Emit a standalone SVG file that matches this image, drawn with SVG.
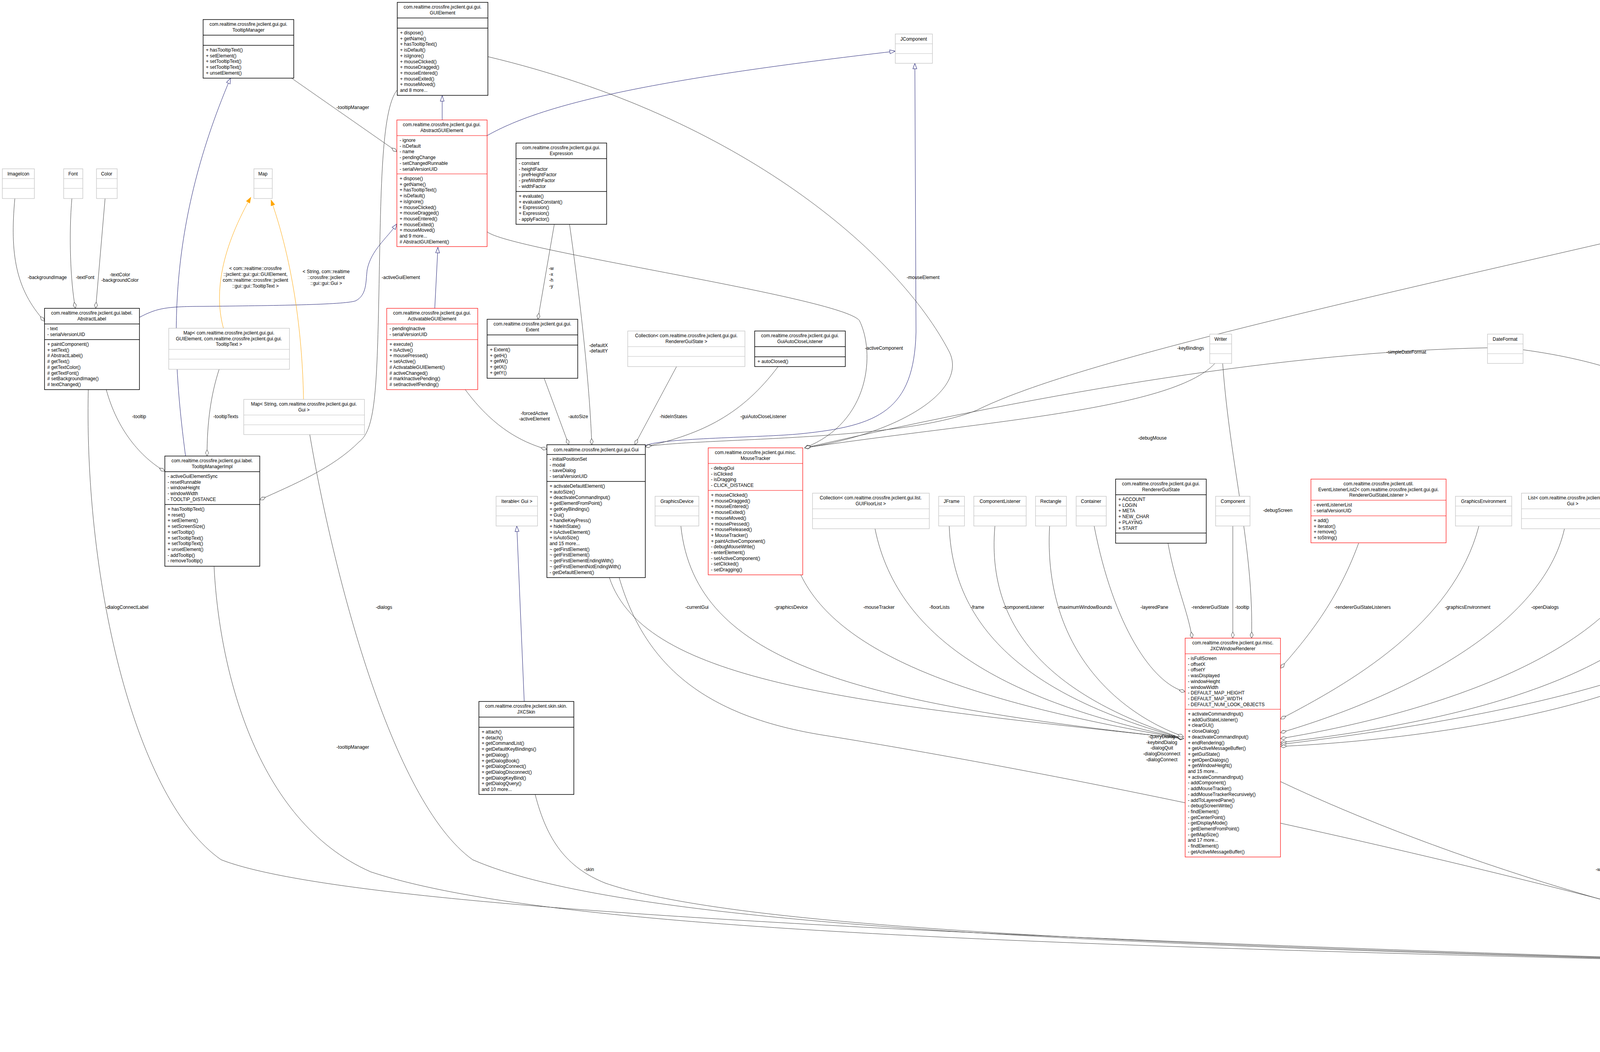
<svg xmlns="http://www.w3.org/2000/svg" width="6203" height="2692" viewBox="0 0 6203 2692">
<style>
text{font-family:"Liberation Sans",Arial,sans-serif;font-size:12px;fill:#000}
.c{text-anchor:middle}
.b rect{fill:#fff;stroke:#000;stroke-width:1.5}
.b line{stroke:#000;stroke-width:1.5}
.r rect{fill:#fff;stroke:#f00;stroke-width:1.2}
.r line{stroke:#f00;stroke-width:1.2}
.g rect{fill:#fff;stroke:#bfbfbf;stroke-width:1.2}
.g line{stroke:#bfbfbf;stroke-width:1.2}
.m rect{fill:#bfbfbf;stroke:#000;stroke-width:1.5}
.m line{stroke:#000;stroke-width:1.5}
.e{fill:none;stroke:#404040;stroke-width:1}
.i{fill:none;stroke:#191970;stroke-width:1}
.o{fill:none;stroke:orange;stroke-width:1}
</style>
<defs>
<marker id="dia" markerUnits="userSpaceOnUse" markerWidth="18" markerHeight="10" refX="16" refY="5" orient="auto" viewBox="0 0 18 10"><path d="M0,5 L8,1 L16,5 L8,9 Z" fill="#fff" stroke="#404040"/></marker>
<marker id="tri" markerUnits="userSpaceOnUse" markerWidth="16" markerHeight="12" refX="15" refY="6" orient="auto" viewBox="0 0 16 12"><path d="M1,1 L15,6 L1,11 Z" fill="#fff" stroke="#191970"/></marker>
<marker id="arr" markerUnits="userSpaceOnUse" markerWidth="16" markerHeight="12" refX="15" refY="6" orient="auto" viewBox="0 0 16 12"><path d="M1,1 L15,6 L1,11 Z" fill="orange" stroke="orange"/></marker>
</defs>

<g id="connectors">
<path class="i" marker-end="url(#tri)" d="M475,1167 C440,900 420,600 590,200"/>
<path class="i" marker-end="url(#tri)" d="M1132,307 L1132,245"/>
<path class="i" marker-end="url(#tri)" d="M1113,789 L1121,633"/>
<path class="i" marker-end="url(#tri)" d="M357,812 C400,790 420,784 520,784 C700,782 880,780 910,770 C940,755 936,720 940,690 C950,640 990,610 1016,573"/>
<path class="i" marker-end="url(#tri)" d="M1247,347 C1400,260 1700,200 2292,131"/>
<path class="i" marker-end="url(#tri)" d="M1652,1140 C1700,1120 1950,1120 2050,1110 C2250,1090 2340,1050 2345,850 L2342,162"/>
<path class="i" marker-end="url(#tri)" d="M1342,1795 L1323,1346"/>
<path class="i" marker-end="url(#tri)" d="M5766,1219 L5872,930"/>
<path class="i" marker-end="url(#tri)" d="M5843,1502 C5880,1450 5900,1300 5890,930"/>
<path class="i" marker-end="url(#tri)" d="M6015,1502 L5897,930"/>
<path class="o" marker-end="url(#arr)" d="M572,840 C550,760 560,650 642,505"/>
<path class="o" marker-end="url(#arr)" d="M777,1022 C775,900 760,700 694,512"/>

<path class="e" marker-end="url(#dia)" d="M38,508 C25,650 40,740 114,822"/>
<path class="e" marker-end="url(#dia)" d="M184,508 C176,600 180,720 193,789"/>
<path class="e" marker-end="url(#dia)" d="M269,508 L245,789"/>
<path class="e" marker-end="url(#dia)" d="M745,199 L1016,388"/>
<path class="e" marker-end="url(#dia)" d="M1017,230 C975,280 975,500 970,750 C965,1000 960,1100 920,1130 C850,1200 750,1240 665,1279"/>
<path class="e" marker-end="url(#dia)" d="M272,997 C300,1100 360,1170 422,1206"/>
<path class="e" marker-end="url(#dia)" d="M561,945 C540,1010 530,1080 530,1167"/>
<path class="e" marker-end="url(#dia)" d="M226,997 C215,1500 350,2050 566,2200 C900,2330 2500,2400 4686,2467"/>
<path class="e" marker-end="url(#dia)" d="M548,1449 C560,1700 650,2100 949,2231 C1400,2380 2600,2420 4686,2467"/>
<path class="e" marker-end="url(#dia)" d="M793,1112 C850,1450 1000,2050 1210,2200 C1600,2370 2800,2420 4686,2467"/>
<path class="e" marker-end="url(#dia)" d="M1370,2033 C1400,2150 1450,2220 1550,2260 C1900,2380 3000,2420 4686,2467"/>
<path class="e" marker-end="url(#dia)" d="M1585,1478 C1650,1700 1800,1830 2100,1880 C2600,1960 3600,2150 4686,2460"/>
<path class="e" marker-end="url(#dia)" d="M1191,997 C1260,1090 1330,1130 1400,1150"/>
<path class="e" marker-end="url(#dia)" d="M1393,968 L1456,1138"/>
<path class="e" marker-end="url(#dia)" d="M1419,574 L1377,817"/>
<path class="e" marker-end="url(#dia)" d="M1458,574 C1490,800 1510,1000 1515,1138"/>
<path class="e" marker-end="url(#dia)" d="M1732,938 L1625,1138"/>
<path class="e" marker-end="url(#dia)" d="M1992,938 C1900,1060 1800,1110 1652,1143"/>
<path class="e" marker-end="url(#dia)" d="M1249,145 C1900,300 2300,650 2430,900 C2480,1000 2300,1110 2060,1146"/>
<path class="e" marker-end="url(#dia)" d="M1247,593 C1300,640 2150,760 2200,820 C2240,900 2230,1080 2060,1146"/>
<path class="e" marker-end="url(#dia)" d="M4712,480 C3800,700 2800,900 2500,1050 C2300,1130 1800,1120 1652,1143"/>
<path class="e" marker-end="url(#dia)" d="M3110,930 C3000,1050 2500,1080 2060,1146"/>
<path class="e" marker-end="url(#dia)" d="M3808,890 C3300,900 2700,1000 2060,1146"/>
<path class="e" marker-end="url(#dia)" d="M3130,930 C3150,1200 3210,1400 3204,1633"/>
<path class="e" marker-end="url(#dia)" d="M1560,1478 C1650,1750 2200,1800 3030,1890"/>
<path class="e" marker-end="url(#dia)" d="M1743,1346 C1780,1700 2200,1800 3030,1890"/>
<path class="e" marker-end="url(#dia)" d="M2050,1471 C2150,1680 2500,1800 3030,1890"/>
<path class="e" marker-end="url(#dia)" d="M2240,1353 C2300,1650 2600,1800 3030,1890"/>
<path class="e" marker-end="url(#dia)" d="M2430,1346 C2440,1650 2700,1800 3030,1890"/>
<path class="e" marker-end="url(#dia)" d="M2547,1346 C2520,1650 2750,1800 3030,1890"/>
<path class="e" marker-end="url(#dia)" d="M2687,1346 C2670,1650 2850,1820 3030,1885"/>
<path class="e" marker-end="url(#dia)" d="M2801,1346 C2850,1600 2950,1750 3034,1770"/>
<path class="e" marker-end="url(#dia)" d="M2990,1390 C3010,1500 3040,1560 3052,1633"/>
<path class="e" marker-end="url(#dia)" d="M3156,1346 L3156,1633"/>
<path class="e" marker-end="url(#dia)" d="M3478,1390 C3420,1550 3330,1650 3278,1710"/>
<path class="e" marker-end="url(#dia)" d="M3786,1346 C3720,1600 3450,1750 3278,1840"/>
<path class="e" marker-end="url(#dia)" d="M4005,1353 C3950,1600 3600,1780 3278,1875"/>
<path class="e" marker-end="url(#dia)" d="M4237,1346 C4200,1650 3700,1820 3278,1890"/>
<path class="e" marker-end="url(#dia)" d="M4378,1346 C4330,1700 3800,1840 3278,1900"/>
<path class="e" marker-end="url(#dia)" d="M4650,1427 C4500,1700 3900,1830 3278,1905"/>
<path class="e" marker-end="url(#dia)" d="M3899,895 C4300,950 4450,1100 4453,1300 C4455,1500 4400,1650 4190,1750 C3900,1860 3500,1900 3278,1910"/>
<path class="e" marker-end="url(#dia)" d="M3278,2000 C3700,2200 4300,2380 4686,2430"/>
<path class="e" marker-end="url(#dia)" d="M4762,1427 C4765,1800 4775,2100 4783,2258"/>
<path class="e" marker-end="url(#dia)" d="M4939,1449 C4870,1650 4840,2000 4818,2258"/>
<path class="e" marker-end="url(#dia)" d="M4848,1427 C4900,1550 5000,1650 5054,1781"/>
<path class="e" marker-end="url(#dia)" d="M5073,1449 C5085,1600 5095,1700 5100,1781"/>
<path class="e" marker-end="url(#dia)" d="M5273,1457 C5230,1580 5180,1700 5159,1781"/>
<path class="e" marker-end="url(#dia)" d="M5678,1398 C5600,1480 5550,1490 5480,1492 C5350,1520 5250,1700 5193,1781"/>
<path class="e" marker-end="url(#dia)" d="M5058,2047 L4924,2285"/>
<path class="e" marker-end="url(#dia)" d="M5341,1457 C5320,1800 5200,2300 4924,2425"/>
<path class="e" marker-end="url(#dia)" d="M5657,1398 C5600,1600 5560,2000 5450,2150 C5300,2330 5100,2420 4924,2435"/>
<path class="e" marker-end="url(#dia)" d="M5510,764 C5520,1200 5520,1700 5520,2000 C5500,2250 5200,2420 4924,2445"/>
<path class="e" marker-end="url(#dia)" d="M5754,1608 C5780,1900 5700,2200 5500,2320 C5300,2420 5100,2450 4924,2455"/>
<path class="e" marker-end="url(#dia)" d="M6038,1608 C6060,1900 6000,2200 5800,2330 C5500,2440 5200,2460 4924,2465"/>
<path class="e" marker-end="url(#dia)" d="M5166,192 L4994,345"/>
<path class="e" marker-end="url(#dia)" d="M5287,192 L5483,658"/>
<path class="e" marker-end="url(#dia)" d="M5247,192 C5245,600 5240,900 5230,1000 C5210,1080 5175,1120 5159,1167"/>
<path class="e" marker-end="url(#dia)" d="M4928,618 L5029,826"/>
<path class="e" marker-end="url(#dia)" d="M4796,618 C4760,850 4770,950 4850,1050 C4900,1100 4950,1130 4963,1167"/>
<path class="e" marker-end="url(#dia)" d="M5066,960 L5066,1167"/>

<g class="lbl">
<text class="c" x="654" y="691">&lt; com::realtime::crossfire</text><text class="c" x="654" y="706">::jxclient::gui::gui::GUIElement,</text><text class="c" x="654" y="721">com::realtime::crossfire::jxclient</text><text class="c" x="654" y="736">::gui::gui::TooltipText &gt;</text>
<text class="c" x="835" y="699">&lt; String, com::realtime</text><text class="c" x="835" y="714">::crossfire::jxclient</text><text class="c" x="835" y="729">::gui::gui::Gui &gt;</text>
<text class="c" x="121" y="714">-backgroundImage</text>
<text class="c" x="218" y="714">-textFont</text>
<text class="c" x="307" y="707">-textColor</text><text class="c" x="307" y="721">-backgroundColor</text>
<text class="c" x="903" y="279">-tooltipManager</text>
<text class="c" x="1026" y="714">-activeGuiElement</text>
<text class="c" x="356" y="1070">-tooltip</text>
<text class="c" x="578" y="1070">-tooltipTexts</text>
<text class="c" x="325" y="1558">-dialogConnectLabel</text>
<text class="c" x="983" y="1558">-dialogs</text>
<text class="c" x="903" y="1916">-tooltipManager</text>
<text class="c" x="1508" y="2229">-skin</text>
<text class="c" x="1368" y="1062">-forcedActive</text><text class="c" x="1368" y="1076">-activeElement</text>
<text class="c" x="1480" y="1070">-autoSize</text>
<text class="c" x="1411" y="691">-w</text><text class="c" x="1411" y="706">-x</text><text class="c" x="1411" y="721">-h</text><text class="c" x="1411" y="736">-y</text>
<text class="c" x="1532" y="888">-defaultX</text><text class="c" x="1532" y="902">-defaultY</text>
<text class="c" x="1724" y="1070">-hideInStates</text>
<text class="c" x="1954" y="1070">-guiAutoCloseListener</text>
<text class="c" x="2363" y="714">-mouseElement</text>
<text class="c" x="2263" y="895">-activeComponent</text>
<text class="c" x="3048" y="895">-keyBindings</text>
<text class="c" x="2950" y="1125">-debugMouse</text>
<text class="c" x="3600" y="905">-simpleDateFormat</text>
<text class="c" x="3271" y="1310">-debugScreen</text>
<text class="c" x="1784" y="1558">-currentGui</text>
<text class="c" x="2025" y="1558">-graphicsDevice</text>
<text class="c" x="2250" y="1558">-mouseTracker</text>
<text class="c" x="2405" y="1558">-floorLists</text>
<text class="c" x="2502" y="1558">-frame</text>
<text class="c" x="2620" y="1558">-componentListener</text>
<text class="c" x="2777" y="1558">-maximumWindowBounds</text>
<text class="c" x="2955" y="1558">-layeredPane</text>
<text class="c" x="3098" y="1558">-rendererGuiState</text>
<text class="c" x="3180" y="1558">-tooltip</text>
<text class="c" x="3488" y="1558">-rendererGuiStateListeners</text>
<text class="c" x="3757" y="1558">-graphicsEnvironment</text>
<text class="c" x="3955" y="1558">-openDialogs</text>
<text class="c" x="4210" y="1558">-mouseInputListener</text>
<text class="c" x="4390" y="1558">-defaultDisplayMode</text>
<text class="c" x="4532" y="1310">-simpleDateFormat</text>
<text class="c" x="4666" y="1558">-crossfireServerConnection</text>
<text class="c" x="4987" y="1558">-server</text>
<text class="c" x="5147" y="1558">-keybindingsManager</text>
<text class="c" x="5280" y="1558">-settings</text>
<text class="c" x="5513" y="1558">-guiStateListener</text>
<text class="c" x="5556" y="1310">-guiFactory</text>
<text class="c" x="5140" y="279">-guiCommandFactory</text>
<text class="c" x="5380" y="279">-guiCommandFactory</text>
<text class="c" x="5307" y="714">-guiCommandFactory</text>
<text class="c" x="5040" y="707">-keyBindings</text><text class="c" x="5040" y="721">-keyBindings2</text>
<text class="c" x="4850" y="888">-keyBindings</text><text class="c" x="4850" y="902">-characterKeyBindings</text>
<text class="c" x="5120" y="1070">-keyBindingState</text>
<text class="c" x="4132" y="2229">-windowRenderer</text>
<text class="c" x="4802" y="1916">-server</text>
<text class="c" x="4927" y="1916">-keybindingsManager</text>
<text class="c" x="5003" y="2229">-connection</text>
<text class="c" x="5300" y="2204">-settings</text>
<text class="c" x="5585" y="2204">-guiStateListener</text>
<text class="c" x="5870" y="2204">-crossfireDrawextinfoListener</text>
<text class="c" x="6120" y="2204">-crossfireFailureListener</text>
<text class="c" x="2974" y="1889">-queryDialog</text><text class="c" x="2974" y="1904">-keybindDialog</text><text class="c" x="2974" y="1918">-dialogQuit</text><text class="c" x="2974" y="1933">-dialogDisconnect</text><text class="c" x="2974" y="1948">-dialogConnect</text>
</g>
</g>

<g id="TooltipManager" class="b"><rect x="520" y="50" width="232" height="150"/><line x1="520" y1="90" x2="752" y2="90"/><line x1="520" y1="116" x2="752" y2="116"/>
<text class="c" x="636" y="66">com.realtime.crossfire.jxclient.gui.gui.<tspan x="636" dy="14.7">TooltipManager</tspan></text>
<text x="527" y="132">+ hasTooltipText()<tspan x="527" dy="14.7">+ setElement()</tspan><tspan x="527" dy="14.7">+ setTooltipText()</tspan><tspan x="527" dy="14.7">+ setTooltipText()</tspan><tspan x="527" dy="14.7">+ unsetElement()</tspan></text></g>

<g id="GUIElement" class="b"><rect x="1017" y="6" width="232" height="238"/><line x1="1017" y1="46" x2="1249" y2="46"/><line x1="1017" y1="72" x2="1249" y2="72"/>
<text class="c" x="1133" y="22">com.realtime.crossfire.jxclient.gui.gui.<tspan x="1133" dy="14.7">GUIElement</tspan></text>
<text x="1024" y="88">+ dispose()<tspan x="1024" dy="14.7">+ getName()</tspan><tspan x="1024" dy="14.7">+ hasTooltipText()</tspan><tspan x="1024" dy="14.7">+ isDefault()</tspan><tspan x="1024" dy="14.7">+ isIgnore()</tspan><tspan x="1024" dy="14.7">+ mouseClicked()</tspan><tspan x="1024" dy="14.7">+ mouseDragged()</tspan><tspan x="1024" dy="14.7">+ mouseEntered()</tspan><tspan x="1024" dy="14.7">+ mouseExited()</tspan><tspan x="1024" dy="14.7">+ mouseMoved()</tspan><tspan x="1024" dy="14.7">and 8 more...</tspan></text></g>

<g id="AbstractGUIElement" class="r"><rect x="1016" y="307" width="231" height="324"/><line x1="1016" y1="347" x2="1247" y2="347"/><line x1="1016" y1="445" x2="1247" y2="445"/>
<text class="c" x="1131" y="323">com.realtime.crossfire.jxclient.gui.gui.<tspan x="1131" dy="14.7">AbstractGUIElement</tspan></text>
<text x="1023" y="363">- ignore<tspan x="1023" dy="14.7">- isDefault</tspan><tspan x="1023" dy="14.7">- name</tspan><tspan x="1023" dy="14.7">- pendingChange</tspan><tspan x="1023" dy="14.7">- setChangedRunnable</tspan><tspan x="1023" dy="14.7">- serialVersionUID</tspan></text>
<text x="1023" y="461">+ dispose()<tspan x="1023" dy="14.7">+ getName()</tspan><tspan x="1023" dy="14.7">+ hasTooltipText()</tspan><tspan x="1023" dy="14.7">+ isDefault()</tspan><tspan x="1023" dy="14.7">+ isIgnore()</tspan><tspan x="1023" dy="14.7">+ mouseClicked()</tspan><tspan x="1023" dy="14.7">+ mouseDragged()</tspan><tspan x="1023" dy="14.7">+ mouseEntered()</tspan><tspan x="1023" dy="14.7">+ mouseExited()</tspan><tspan x="1023" dy="14.7">+ mouseMoved()</tspan><tspan x="1023" dy="14.7">and 9 more...</tspan><tspan x="1023" dy="14.7"># AbstractGUIElement()</tspan></text></g>

<g id="ImageIcon" class="g"><rect x="6" y="432" width="82" height="76"/><line x1="6" y1="457" x2="88" y2="457"/><line x1="6" y1="482" x2="88" y2="482"/><text class="c" x="47" y="449">ImageIcon</text></g>
<g id="Font" class="g"><rect x="163" y="432" width="49" height="76"/><line x1="163" y1="457" x2="212" y2="457"/><line x1="163" y1="482" x2="212" y2="482"/><text class="c" x="187" y="449">Font</text></g>
<g id="Color" class="g"><rect x="247" y="432" width="53" height="76"/><line x1="247" y1="457" x2="300" y2="457"/><line x1="247" y1="482" x2="300" y2="482"/><text class="c" x="273" y="449">Color</text></g>
<g id="Map" class="g"><rect x="650" y="432" width="47" height="76"/><line x1="650" y1="457" x2="697" y2="457"/><line x1="650" y1="482" x2="697" y2="482"/><text class="c" x="673" y="449">Map</text></g>
<g id="JComponent" class="g"><rect x="2292" y="87" width="95" height="75"/><line x1="2292" y1="112" x2="2387" y2="112"/><line x1="2292" y1="137" x2="2387" y2="137"/><text class="c" x="2339" y="104">JComponent</text></g>

<g id="AbstractLabel" class="b"><rect x="114" y="789" width="243" height="208"/><line x1="114" y1="829" x2="357" y2="829"/><line x1="114" y1="869" x2="357" y2="869"/>
<text class="c" x="235" y="805">com.realtime.crossfire.jxclient.gui.label.<tspan x="235" dy="14.7">AbstractLabel</tspan></text>
<text x="121" y="845">- text<tspan x="121" dy="14.7">- serialVersionUID</tspan></text>
<text x="121" y="885">+ paintComponent()<tspan x="121" dy="14.7">+ setText()</tspan><tspan x="121" dy="14.7"># AbstractLabel()</tspan><tspan x="121" dy="14.7"># getText()</tspan><tspan x="121" dy="14.7"># getTextColor()</tspan><tspan x="121" dy="14.7"># getTextFont()</tspan><tspan x="121" dy="14.7"># setBackgroundImage()</tspan><tspan x="121" dy="14.7"># textChanged()</tspan></text></g>

<g id="MapGUIElementTooltipText" class="g"><rect x="432" y="840" width="309" height="105"/><line x1="432" y1="894" x2="741" y2="894"/><line x1="432" y1="919" x2="741" y2="919"/>
<text class="c" x="586" y="856">Map&lt; com.realtime.crossfire.jxclient.gui.gui.<tspan x="586" dy="14.7">GUIElement, com.realtime.crossfire.jxclient.gui.gui.</tspan><tspan x="586" dy="14.7">TooltipText &gt;</tspan></text></g>

<g id="ActivatableGUIElement" class="r"><rect x="990" y="789" width="233" height="208"/><line x1="990" y1="829" x2="1223" y2="829"/><line x1="990" y1="869" x2="1223" y2="869"/>
<text class="c" x="1106" y="805">com.realtime.crossfire.jxclient.gui.gui.<tspan x="1106" dy="14.7">ActivatableGUIElement</tspan></text>
<text x="997" y="845">- pendingInactive<tspan x="997" dy="14.7">- serialVersionUID</tspan></text>
<text x="997" y="885">+ execute()<tspan x="997" dy="14.7">+ isActive()</tspan><tspan x="997" dy="14.7">+ mousePressed()</tspan><tspan x="997" dy="14.7">+ setActive()</tspan><tspan x="997" dy="14.7"># ActivatableGUIElement()</tspan><tspan x="997" dy="14.7"># activeChanged()</tspan><tspan x="997" dy="14.7"># markInactivePending()</tspan><tspan x="997" dy="14.7"># setInactiveIfPending()</tspan></text></g>

<g id="Expression" class="b"><rect x="1321" y="366" width="232" height="208"/><line x1="1321" y1="406" x2="1553" y2="406"/><line x1="1321" y1="490" x2="1553" y2="490"/>
<text class="c" x="1437" y="382">com.realtime.crossfire.jxclient.gui.gui.<tspan x="1437" dy="14.7">Expression</tspan></text>
<text x="1328" y="422">- constant<tspan x="1328" dy="14.7">- heightFactor</tspan><tspan x="1328" dy="14.7">- prefHeightFactor</tspan><tspan x="1328" dy="14.7">- prefWidthFactor</tspan><tspan x="1328" dy="14.7">- widthFactor</tspan></text>
<text x="1328" y="506">+ evaluate()<tspan x="1328" dy="14.7">+ evaluateConstant()</tspan><tspan x="1328" dy="14.7">+ Expression()</tspan><tspan x="1328" dy="14.7">+ Expression()</tspan><tspan x="1328" dy="14.7">- applyFactor()</tspan></text></g>

<g id="Extent" class="b"><rect x="1247" y="817" width="232" height="151"/><line x1="1247" y1="857" x2="1479" y2="857"/><line x1="1247" y1="883" x2="1479" y2="883"/>
<text class="c" x="1363" y="833">com.realtime.crossfire.jxclient.gui.gui.<tspan x="1363" dy="14.7">Extent</tspan></text>
<text x="1254" y="899">+ Extent()<tspan x="1254" dy="14.7">+ getH()</tspan><tspan x="1254" dy="14.7">+ getW()</tspan><tspan x="1254" dy="14.7">+ getX()</tspan><tspan x="1254" dy="14.7">+ getY()</tspan></text></g>

<g id="CollectionRendererGuiState" class="g"><rect x="1607" y="847" width="300" height="91"/><line x1="1607" y1="887" x2="1907" y2="887"/><line x1="1607" y1="912" x2="1907" y2="912"/>
<text class="c" x="1757" y="863">Collection&lt; com.realtime.crossfire.jxclient.gui.gui.<tspan x="1757" dy="14.7">RendererGuiState &gt;</tspan></text></g>

<g id="GuiAutoCloseListener" class="b"><rect x="1932" y="847" width="232" height="91"/><line x1="1932" y1="887" x2="2164" y2="887"/><line x1="1932" y1="913" x2="2164" y2="913"/>
<text class="c" x="2048" y="863">com.realtime.crossfire.jxclient.gui.gui.<tspan x="2048" dy="14.7">GuiAutoCloseListener</tspan></text>
<text x="1939" y="929">+ autoClosed()</text></g>

<g id="TooltipManagerImpl" class="b"><rect x="422" y="1167" width="243" height="282"/><line x1="422" y1="1207" x2="665" y2="1207"/><line x1="422" y1="1291" x2="665" y2="1291"/>
<text class="c" x="543" y="1183">com.realtime.crossfire.jxclient.gui.label.<tspan x="543" dy="14.7">TooltipManagerImpl</tspan></text>
<text x="429" y="1223">- activeGuiElementSync<tspan x="429" dy="14.7">- resetRunnable</tspan><tspan x="429" dy="14.7">- windowHeight</tspan><tspan x="429" dy="14.7">- windowWidth</tspan><tspan x="429" dy="14.7">- TOOLTIP_DISTANCE</tspan></text>
<text x="429" y="1307">+ hasTooltipText()<tspan x="429" dy="14.7">+ reset()</tspan><tspan x="429" dy="14.7">+ setElement()</tspan><tspan x="429" dy="14.7">+ setScreenSize()</tspan><tspan x="429" dy="14.7">+ setTooltip()</tspan><tspan x="429" dy="14.7">+ setTooltipText()</tspan><tspan x="429" dy="14.7">+ setTooltipText()</tspan><tspan x="429" dy="14.7">+ unsetElement()</tspan><tspan x="429" dy="14.7">- addTooltip()</tspan><tspan x="429" dy="14.7">- removeTooltip()</tspan></text></g>

<g id="MapStringGui" class="g"><rect x="624" y="1022" width="309" height="90"/><line x1="624" y1="1062" x2="933" y2="1062"/><line x1="624" y1="1087" x2="933" y2="1087"/>
<text class="c" x="778" y="1038">Map&lt; String, com.realtime.crossfire.jxclient.gui.gui.<tspan x="778" dy="14.7">Gui &gt;</tspan></text></g>

<g id="IterableGui" class="g"><rect x="1270" y="1270" width="106" height="76"/><line x1="1270" y1="1295" x2="1376" y2="1295"/><line x1="1270" y1="1320" x2="1376" y2="1320"/><text class="c" x="1323" y="1287">Iterable&lt; Gui &gt;</text></g>

<g id="Gui" class="b"><rect x="1400" y="1138" width="252" height="340"/><line x1="1400" y1="1163" x2="1652" y2="1163"/><line x1="1400" y1="1232" x2="1652" y2="1232"/>
<text class="c" x="1526" y="1155">com.realtime.crossfire.jxclient.gui.gui.Gui</text>
<text x="1407" y="1179">- initialPositionSet<tspan x="1407" dy="14.7">- modal</tspan><tspan x="1407" dy="14.7">- saveDialog</tspan><tspan x="1407" dy="14.7">- serialVersionUID</tspan></text>
<text x="1407" y="1248">+ activateDefaultElement()<tspan x="1407" dy="14.7">+ autoSize()</tspan><tspan x="1407" dy="14.7">+ deactivateCommandInput()</tspan><tspan x="1407" dy="14.7">+ getElementFromPoint()</tspan><tspan x="1407" dy="14.7">+ getKeyBindings()</tspan><tspan x="1407" dy="14.7">+ Gui()</tspan><tspan x="1407" dy="14.7">+ handleKeyPress()</tspan><tspan x="1407" dy="14.7">+ hideInState()</tspan><tspan x="1407" dy="14.7">+ isActiveElement()</tspan><tspan x="1407" dy="14.7">+ isAutoSize()</tspan><tspan x="1407" dy="14.7">and 15 more...</tspan><tspan x="1407" dy="14.7">~ getFirstElement()</tspan><tspan x="1407" dy="14.7">~ getFirstElement()</tspan><tspan x="1407" dy="14.7">~ getFirstElementEndingWith()</tspan><tspan x="1407" dy="14.7">~ getFirstElementNotEndingWith()</tspan><tspan x="1407" dy="14.7">- getDefaultElement()</tspan></text></g>

<g id="GraphicsDevice" class="g"><rect x="1677" y="1270" width="112" height="76"/><line x1="1677" y1="1295" x2="1789" y2="1295"/><line x1="1677" y1="1320" x2="1789" y2="1320"/><text class="c" x="1733" y="1287">GraphicsDevice</text></g>

<g id="MouseTracker" class="r"><rect x="1813" y="1146" width="242" height="325"/><line x1="1813" y1="1186" x2="2055" y2="1186"/><line x1="1813" y1="1255" x2="2055" y2="1255"/>
<text class="c" x="1934" y="1162">com.realtime.crossfire.jxclient.gui.misc.<tspan x="1934" dy="14.7">MouseTracker</tspan></text>
<text x="1820" y="1202">- debugGui<tspan x="1820" dy="14.7">- isClicked</tspan><tspan x="1820" dy="14.7">- isDragging</tspan><tspan x="1820" dy="14.7">- CLICK_DISTANCE</tspan></text>
<text x="1820" y="1271">+ mouseClicked()<tspan x="1820" dy="14.7">+ mouseDragged()</tspan><tspan x="1820" dy="14.7">+ mouseEntered()</tspan><tspan x="1820" dy="14.7">+ mouseExited()</tspan><tspan x="1820" dy="14.7">+ mouseMoved()</tspan><tspan x="1820" dy="14.7">+ mousePressed()</tspan><tspan x="1820" dy="14.7">+ mouseReleased()</tspan><tspan x="1820" dy="14.7">+ MouseTracker()</tspan><tspan x="1820" dy="14.7">+ paintActiveComponent()</tspan><tspan x="1820" dy="14.7">- debugMouseWrite()</tspan><tspan x="1820" dy="14.7">- enterElement()</tspan><tspan x="1820" dy="14.7">- setActiveComponent()</tspan><tspan x="1820" dy="14.7">- setClicked()</tspan><tspan x="1820" dy="14.7">- setDragging()</tspan></text></g>

<g id="CollectionGUIFloorList" class="g"><rect x="2080" y="1262" width="299" height="91"/><line x1="2080" y1="1302" x2="2379" y2="1302"/><line x1="2080" y1="1327" x2="2379" y2="1327"/>
<text class="c" x="2229" y="1278">Collection&lt; com.realtime.crossfire.jxclient.gui.list.<tspan x="2229" dy="14.7">GUIFloorList &gt;</tspan></text></g>

<g id="JFrame" class="g"><rect x="2403" y="1270" width="66" height="76"/><line x1="2403" y1="1295" x2="2469" y2="1295"/><line x1="2403" y1="1320" x2="2469" y2="1320"/><text class="c" x="2436" y="1287">JFrame</text></g>
<g id="ComponentListener" class="g"><rect x="2493" y="1270" width="134" height="76"/><line x1="2493" y1="1295" x2="2627" y2="1295"/><line x1="2493" y1="1320" x2="2627" y2="1320"/><text class="c" x="2560" y="1287">ComponentListener</text></g>
<g id="Rectangle" class="g"><rect x="2651" y="1270" width="79" height="76"/><line x1="2651" y1="1295" x2="2730" y2="1295"/><line x1="2651" y1="1320" x2="2730" y2="1320"/><text class="c" x="2690" y="1287">Rectangle</text></g>
<g id="Container" class="g"><rect x="2755" y="1270" width="77" height="76"/><line x1="2755" y1="1295" x2="2832" y2="1295"/><line x1="2755" y1="1320" x2="2832" y2="1320"/><text class="c" x="2793" y="1287">Container</text></g>
<g id="Component" class="g"><rect x="3112" y="1270" width="88" height="76"/><line x1="3112" y1="1295" x2="3200" y2="1295"/><line x1="3112" y1="1320" x2="3200" y2="1320"/><text class="c" x="3156" y="1287">Component</text></g>
<g id="GraphicsEnvironment" class="g"><rect x="3726" y="1270" width="144" height="76"/><line x1="3726" y1="1295" x2="3870" y2="1295"/><line x1="3726" y1="1320" x2="3870" y2="1320"/><text class="c" x="3798" y="1287">GraphicsEnvironment</text></g>
<g id="MouseInputListener" class="g"><rect x="4182" y="1270" width="135" height="76"/><line x1="4182" y1="1295" x2="4317" y2="1295"/><line x1="4182" y1="1320" x2="4317" y2="1320"/><text class="c" x="4249" y="1287">MouseInputListener</text></g>
<g id="DisplayMode" class="g"><rect x="4341" y="1270" width="94" height="76"/><line x1="4341" y1="1295" x2="4435" y2="1295"/><line x1="4341" y1="1320" x2="4435" y2="1320"/><text class="c" x="4388" y="1287">DisplayMode</text></g>
<g id="ListGui" class="g"><rect x="3895" y="1262" width="263" height="91"/><line x1="3895" y1="1302" x2="4158" y2="1302"/><line x1="3895" y1="1327" x2="4158" y2="1327"/>
<text class="c" x="4026" y="1278">List&lt; com.realtime.crossfire.jxclient.gui.gui.<tspan x="4026" dy="14.7">Gui &gt;</tspan></text></g>
<g id="Writer" class="g"><rect x="3097" y="855" width="56" height="75"/><line x1="3097" y1="880" x2="3153" y2="880"/><line x1="3097" y1="905" x2="3153" y2="905"/><text class="c" x="3125" y="872">Writer</text></g>
<g id="DateFormat" class="g"><rect x="3808" y="855" width="91" height="75"/><line x1="3808" y1="880" x2="3899" y2="880"/><line x1="3808" y1="905" x2="3899" y2="905"/><text class="c" x="3853" y="872">DateFormat</text></g>
<g id="EventListener" class="g"><rect x="5840" y="854" width="98" height="76"/><line x1="5840" y1="879" x2="5938" y2="879"/><line x1="5840" y1="904" x2="5938" y2="904"/><text class="c" x="5889" y="871">EventListener</text></g>

<g id="RendererGuiState" class="b"><rect x="2856" y="1226" width="232" height="164"/><line x1="2856" y1="1266" x2="3088" y2="1266"/><line x1="2856" y1="1364" x2="3088" y2="1364"/>
<text class="c" x="2972" y="1242">com.realtime.crossfire.jxclient.gui.gui.<tspan x="2972" dy="14.7">RendererGuiState</tspan></text>
<text x="2863" y="1282">+ ACCOUNT<tspan x="2863" dy="14.7">+ LOGIN</tspan><tspan x="2863" dy="14.7">+ META</tspan><tspan x="2863" dy="14.7">+ NEW_CHAR</tspan><tspan x="2863" dy="14.7">+ PLAYING</tspan><tspan x="2863" dy="14.7">+ START</tspan></text></g>

<g id="EventListenerList2" class="r"><rect x="3356" y="1226" width="346" height="163"/><line x1="3356" y1="1280" x2="3702" y2="1280"/><line x1="3356" y1="1320" x2="3702" y2="1320"/>
<text class="c" x="3529" y="1242">com.realtime.crossfire.jxclient.util.<tspan x="3529" dy="14.7">EventListenerList2&lt; com.realtime.crossfire.jxclient.gui.gui.</tspan><tspan x="3529" dy="14.7">RendererGuiStateListener &gt;</tspan></text>
<text x="3363" y="1296">- eventListenerList<tspan x="3363" dy="14.7">- serialVersionUID</tspan></text>
<text x="3363" y="1336">+ add()<tspan x="3363" dy="14.7">+ iterator()</tspan><tspan x="3363" dy="14.7">+ remove()</tspan><tspan x="3363" dy="14.7">+ toString()</tspan></text></g>

<g id="JXCWindowRenderer" class="r"><rect x="3034" y="1633" width="244" height="560"/><line x1="3034" y1="1673" x2="3278" y2="1673"/><line x1="3034" y1="1815" x2="3278" y2="1815"/>
<text class="c" x="3156" y="1649">com.realtime.crossfire.jxclient.gui.misc.<tspan x="3156" dy="14.7">JXCWindowRenderer</tspan></text>
<text x="3041" y="1689">- isFullScreen<tspan x="3041" dy="14.7">- offsetX</tspan><tspan x="3041" dy="14.7">- offsetY</tspan><tspan x="3041" dy="14.7">- wasDisplayed</tspan><tspan x="3041" dy="14.7">- windowHeight</tspan><tspan x="3041" dy="14.7">- windowWidth</tspan><tspan x="3041" dy="14.7">- DEFAULT_MAP_HEIGHT</tspan><tspan x="3041" dy="14.7">- DEFAULT_MAP_WIDTH</tspan><tspan x="3041" dy="14.7">- DEFAULT_NUM_LOOK_OBJECTS</tspan></text>
<text x="3041" y="1831">+ activateCommandInput()<tspan x="3041" dy="14.7">+ addGuiStateListener()</tspan><tspan x="3041" dy="14.7">+ clearGUI()</tspan><tspan x="3041" dy="14.7">+ closeDialog()</tspan><tspan x="3041" dy="14.7">+ deactivateCommandInput()</tspan><tspan x="3041" dy="14.7">+ endRendering()</tspan><tspan x="3041" dy="14.7">+ getActiveMessageBuffer()</tspan><tspan x="3041" dy="14.7">+ getGuiState()</tspan><tspan x="3041" dy="14.7">+ getOpenDialogs()</tspan><tspan x="3041" dy="14.7">+ getWindowHeight()</tspan><tspan x="3041" dy="14.7">and 15 more...</tspan><tspan x="3041" dy="14.7">+ activateCommandInput()</tspan><tspan x="3041" dy="14.7">- addComponent()</tspan><tspan x="3041" dy="14.7">- addMouseTracker()</tspan><tspan x="3041" dy="14.7">- addMouseTrackerRecursively()</tspan><tspan x="3041" dy="14.7">- addToLayeredPane()</tspan><tspan x="3041" dy="14.7">- debugScreenWrite()</tspan><tspan x="3041" dy="14.7">- findElement()</tspan><tspan x="3041" dy="14.7">- getCenterPoint()</tspan><tspan x="3041" dy="14.7">- getDisplayMode()</tspan><tspan x="3041" dy="14.7">- getElementFromPoint()</tspan><tspan x="3041" dy="14.7">- getMapSize()</tspan><tspan x="3041" dy="14.7">and 17 more...</tspan><tspan x="3041" dy="14.7">- findElement()</tspan><tspan x="3041" dy="14.7">- getActiveMessageBuffer()</tspan></text></g>

<g id="GUICommandFactory" class="b"><rect x="5101" y="57" width="287" height="135"/><line x1="5101" y1="97" x2="5388" y2="97"/><line x1="5101" y1="123" x2="5388" y2="123"/>
<text class="c" x="5244" y="73">com.realtime.crossfire.jxclient.gui.commandlist.<tspan x="5244" dy="14.7">GUICommandFactory</tspan></text>
<text x="5108" y="139">+ createCommand()<tspan x="5108" dy="14.7">+ createCommandDecode()</tspan><tspan x="5108" dy="14.7">+ decode()</tspan><tspan x="5108" dy="14.7">+ encode()</tspan></text></g>

<g id="KeyBindings" class="r"><rect x="4712" y="322" width="282" height="296"/><line x1="4712" y1="362" x2="4994" y2="362"/><line x1="4712" y1="387" x2="4994" y2="387"/>
<text class="c" x="4853" y="338">com.realtime.crossfire.jxclient.gui.keybindings.<tspan x="4853" dy="14.7">KeyBindings</tspan></text>
<text x="4719" y="378">- modified</text>
<text x="4719" y="403">+ addKeyBindingAsKeyChar()<tspan x="4719" dy="14.7">+ addKeyBindingAsKeyCode()</tspan><tspan x="4719" dy="14.7">+ deleteKeyBindingAsKeyCode()</tspan><tspan x="4719" dy="14.7">+ getBindingsForPartialCommand()</tspan><tspan x="4719" dy="14.7">+ getFile()</tspan><tspan x="4719" dy="14.7">+ handleKeyPress()</tspan><tspan x="4719" dy="14.7">+ KeyBindings()</tspan><tspan x="4719" dy="14.7">+ loadKeyBindings()</tspan><tspan x="4719" dy="14.7">+ parseKeyBinding()</tspan><tspan x="4719" dy="14.7">+ saveKeyBindings()</tspan><tspan x="4719" dy="14.7">- addKeyBinding()</tspan><tspan x="4719" dy="14.7">- deleteKeyBinding()</tspan><tspan x="4719" dy="14.7">- getKeyBindingAsKeyChar()</tspan><tspan x="4719" dy="14.7">- getKeyBindingAsKeyCode()</tspan><tspan x="4719" dy="14.7">- executeKeyBinding()</tspan></text></g>

<g id="GuiFactory" class="b"><rect x="5388" y="658" width="244" height="106"/><line x1="5388" y1="698" x2="5632" y2="698"/><line x1="5388" y1="724" x2="5632" y2="724"/>
<text class="c" x="5510" y="674">com.realtime.crossfire.jxclient.skin.skin.<tspan x="5510" dy="14.7">GuiFactory</tspan></text>
<text x="5395" y="740">+ GuiFactory()<tspan x="5395" dy="14.7">+ newGui()</tspan></text></g>

<g id="KeyBindingState" class="r"><rect x="4925" y="826" width="283" height="134"/><line x1="4925" y1="866" x2="5208" y2="866"/><line x1="4925" y1="906" x2="5208" y2="906"/>
<text class="c" x="5066" y="842">com.realtime.crossfire.jxclient.gui.keybindings.<tspan x="5066" dy="14.7">KeyBindingState</tspan></text>
<text x="4932" y="882">- state<tspan x="4932" dy="14.7">- type</tspan></text>
<text x="4932" y="922">+ KeyBindingState()<tspan x="4932" dy="14.7">+ keyPressed()</tspan><tspan x="4932" dy="14.7">+ keyReleased()</tspan></text></g>

<g id="CrossfireServerConnection" class="r"><rect x="4622" y="1189" width="278" height="238"/><line x1="4622" y1="1229" x2="4900" y2="1229"/><line x1="4622" y1="1255" x2="4900" y2="1255"/>
<text class="c" x="4761" y="1205">com.realtime.crossfire.jxclient.server.crossfire.<tspan x="4761" dy="14.7">CrossfireServerConnection</tspan></text>
<text x="4629" y="1271">+ addCrossfireAccountListener()<tspan x="4629" dy="14.7">+ addCrossfireComcListener()</tspan><tspan x="4629" dy="14.7">+ addCrossfireDrawextinfoListener()</tspan><tspan x="4629" dy="14.7">+ addCrossfireDrawinfoListener()</tspan><tspan x="4629" dy="14.7">+ addCrossfireFailureListener()</tspan><tspan x="4629" dy="14.7">+ addCrossfireMagicmapListener()</tspan><tspan x="4629" dy="14.7">+ addCrossfireMusicListener()</tspan><tspan x="4629" dy="14.7">+ addCrossfirePickupListener()</tspan><tspan x="4629" dy="14.7">+ addCrossfireQueryListener()</tspan><tspan x="4629" dy="14.7">+ addCrossfireSoundListener()</tspan><tspan x="4629" dy="14.7">and 42 more...</tspan></text></g>

<g id="KeybindingsManager" class="b"><rect x="4926" y="1167" width="282" height="282"/><line x1="4926" y1="1207" x2="5208" y2="1207"/><line x1="4926" y1="1233" x2="5208" y2="1233"/>
<text class="c" x="5067" y="1183">com.realtime.crossfire.jxclient.gui.keybindings.<tspan x="5067" dy="14.7">KeybindingsManager</tspan></text>
<text x="4933" y="1249">+ createKeyBinding()<tspan x="4933" dy="14.7">+ escPressed()</tspan><tspan x="4933" dy="14.7">+ getBindingsForPartialCommand()</tspan><tspan x="4933" dy="14.7">+ handleKeyPress()</tspan><tspan x="4933" dy="14.7">+ KeybindingsManager()</tspan><tspan x="4933" dy="14.7">+ keyPressed()</tspan><tspan x="4933" dy="14.7">+ keyReleased()</tspan><tspan x="4933" dy="14.7">+ loadKeybindings()</tspan><tspan x="4933" dy="14.7">+ loadPerCharacterBindings()</tspan><tspan x="4933" dy="14.7">+ removeKeyBinding()</tspan><tspan x="4933" dy="14.7">+ saveKeybindings()</tspan><tspan x="4933" dy="14.7">+ unloadPerCharacterBindings()</tspan><tspan x="4933" dy="14.7">+ windowClosing()</tspan><tspan x="4933" dy="14.7">- getKeyBindings()</tspan></text></g>

<g id="Settings" class="r"><rect x="5232" y="1161" width="239" height="296"/><line x1="5232" y1="1201" x2="5471" y2="1201"/><line x1="5232" y1="1226" x2="5471" y2="1226"/>
<text class="c" x="5351" y="1177">com.realtime.crossfire.jxclient.settings.<tspan x="5351" dy="14.7">Settings</tspan></text>
<text x="5239" y="1217">- noSave</text>
<text x="5239" y="1242">+ getBoolean()<tspan x="5239" dy="14.7">+ getInt()</tspan><tspan x="5239" dy="14.7">+ getLong()</tspan><tspan x="5239" dy="14.7">+ getString()</tspan><tspan x="5239" dy="14.7">+ putBoolean()</tspan><tspan x="5239" dy="14.7">+ putInt()</tspan><tspan x="5239" dy="14.7">+ putLong()</tspan><tspan x="5239" dy="14.7">+ putString()</tspan><tspan x="5239" dy="14.7">+ remove()</tspan><tspan x="5239" dy="14.7">+ Settings()</tspan><tspan x="5239" dy="14.7">- loadValues()</tspan><tspan x="5239" dy="14.7">- loadValues()</tspan><tspan x="5239" dy="14.7">- saveValues()</tspan><tspan x="5239" dy="14.7">- setChanged()</tspan><tspan x="5239" dy="14.7">- saveNode()</tspan></text></g>

<g id="GuiStateListener" class="b"><rect x="5611" y="1219" width="241" height="179"/><line x1="5611" y1="1259" x2="5852" y2="1259"/><line x1="5611" y1="1285" x2="5852" y2="1285"/>
<text class="c" x="5731" y="1235">com.realtime.crossfire.jxclient.guistate.<tspan x="5731" dy="14.7">GuiStateListener</tspan></text>
<text x="5618" y="1301">+ connected()<tspan x="5618" dy="14.7">+ connectFailed()</tspan><tspan x="5618" dy="14.7">+ connecting()</tspan><tspan x="5618" dy="14.7">+ connecting()</tspan><tspan x="5618" dy="14.7">+ metaserver()</tspan><tspan x="5618" dy="14.7">+ preConnecting()</tspan><tspan x="5618" dy="14.7">+ start()</tspan></text></g>

<g id="CrossfireDrawextinfoListener" class="b"><rect x="5601" y="1502" width="280" height="106"/><line x1="5601" y1="1542" x2="5881" y2="1542"/><line x1="5601" y1="1568" x2="5881" y2="1568"/>
<text class="c" x="5741" y="1518">com.realtime.crossfire.jxclient.server.crossfire.<tspan x="5741" dy="14.7">CrossfireDrawextinfoListener</tspan></text>
<text x="5608" y="1584">+ commandDrawextinfoReceived()<tspan x="5608" dy="14.7">+ setDebugMode()</tspan></text></g>

<g id="CrossfireFailureListener" class="b"><rect x="5887" y="1502" width="279" height="106"/><line x1="5887" y1="1542" x2="6166" y2="1542"/><line x1="5887" y1="1568" x2="6166" y2="1568"/>
<text class="c" x="6026" y="1518">com.realtime.crossfire.jxclient.server.crossfire.<tspan x="6026" dy="14.7">CrossfireFailureListener</tspan></text>
<text x="5894" y="1584">+ clearFailure()<tspan x="5894" dy="14.7">+ failure()</tspan></text></g>

<g id="JXCConnection" class="r"><rect x="5000" y="1781" width="238" height="266"/><line x1="5000" y1="1821" x2="5238" y2="1821"/><line x1="5000" y1="1905" x2="5238" y2="1905"/>
<text class="c" x="5119" y="1797">com.realtime.crossfire.jxclient.window.<tspan x="5119" dy="14.7">JXCConnection</tspan></text>
<text x="5007" y="1837">- character<tspan x="5007" dy="14.7">- hostname</tspan><tspan x="5007" dy="14.7">- port</tspan><tspan x="5007" dy="14.7">- DEFAULT_CROSSFIRE_PORT</tspan><tspan x="5007" dy="14.7">- TITLE_PREFIX</tspan></text>
<text x="5007" y="1921">+ getHostname()<tspan x="5007" dy="14.7">+ getPort()</tspan><tspan x="5007" dy="14.7">+ JXCConnection()</tspan><tspan x="5007" dy="14.7">+ setCharacter()</tspan><tspan x="5007" dy="14.7">+ setFrame()</tspan><tspan x="5007" dy="14.7">+ setHost()</tspan><tspan x="5007" dy="14.7">- connect()</tspan><tspan x="5007" dy="14.7">- disconnect()</tspan><tspan x="5007" dy="14.7">- updateTitle()</tspan></text></g>

<g id="GuiManager" class="m"><rect x="4686" y="2258" width="238" height="428"/><line x1="4686" y1="2298" x2="4924" y2="2298"/><line x1="4686" y1="2338" x2="4924" y2="2338"/>
<text class="c" x="4805" y="2274">com.realtime.crossfire.jxclient.window.<tspan x="4805" dy="14.7">GuiManager</tspan></text>
<text x="4693" y="2314">- currentQueryDialogIsName<tspan x="4693" dy="14.7">Prompt</tspan></text>
<text x="4693" y="2354">+ activateCommandInput()<tspan x="4693" dy="14.7">+ addDialog()</tspan><tspan x="4693" dy="14.7">+ closeDialog()</tspan><tspan x="4693" dy="14.7">+ closeDialog()</tspan><tspan x="4693" dy="14.7">+ closeKeybindDialog()</tspan><tspan x="4693" dy="14.7">+ closeQueryDialog()</tspan><tspan x="4693" dy="14.7">+ createKeyBinding()</tspan><tspan x="4693" dy="14.7">+ escPressed()</tspan><tspan x="4693" dy="14.7">+ getCommandList()</tspan><tspan x="4693" dy="14.7">+ GuiManager()</tspan><tspan x="4693" dy="14.7">and 16 more...</tspan><tspan x="4693" dy="14.7">- activateCommandInput()</tspan><tspan x="4693" dy="14.7">- activateMetaserverGui()</tspan><tspan x="4693" dy="14.7">- closeDialogByName()</tspan><tspan x="4693" dy="14.7">- closeTransientDialogs()</tspan><tspan x="4693" dy="14.7">- openDialog()</tspan><tspan x="4693" dy="14.7">- openDialogByName()</tspan><tspan x="4693" dy="14.7">- openKeybindDialog()</tspan><tspan x="4693" dy="14.7">- setHideInput()</tspan><tspan x="4693" dy="14.7">- showGUIMain()</tspan><tspan x="4693" dy="14.7">- showGUIMeta()</tspan><tspan x="4693" dy="14.7">- showGUIStart()</tspan><tspan x="4693" dy="14.7">- updateConnectLabel()</tspan></text></g>

<g id="JXCSkin" class="b"><rect x="1226" y="1795" width="243" height="238"/><line x1="1226" y1="1835" x2="1469" y2="1835"/><line x1="1226" y1="1861" x2="1469" y2="1861"/>
<text class="c" x="1347" y="1811">com.realtime.crossfire.jxclient.skin.skin.<tspan x="1347" dy="14.7">JXCSkin</tspan></text>
<text x="1233" y="1877">+ attach()<tspan x="1233" dy="14.7">+ detach()</tspan><tspan x="1233" dy="14.7">+ getCommandList()</tspan><tspan x="1233" dy="14.7">+ getDefaultKeyBindings()</tspan><tspan x="1233" dy="14.7">+ getDialog()</tspan><tspan x="1233" dy="14.7">+ getDialogBook()</tspan><tspan x="1233" dy="14.7">+ getDialogConnect()</tspan><tspan x="1233" dy="14.7">+ getDialogDisconnect()</tspan><tspan x="1233" dy="14.7">+ getDialogKeyBind()</tspan><tspan x="1233" dy="14.7">+ getDialogQuery()</tspan><tspan x="1233" dy="14.7">and 10 more...</tspan></text></g>
</svg>
